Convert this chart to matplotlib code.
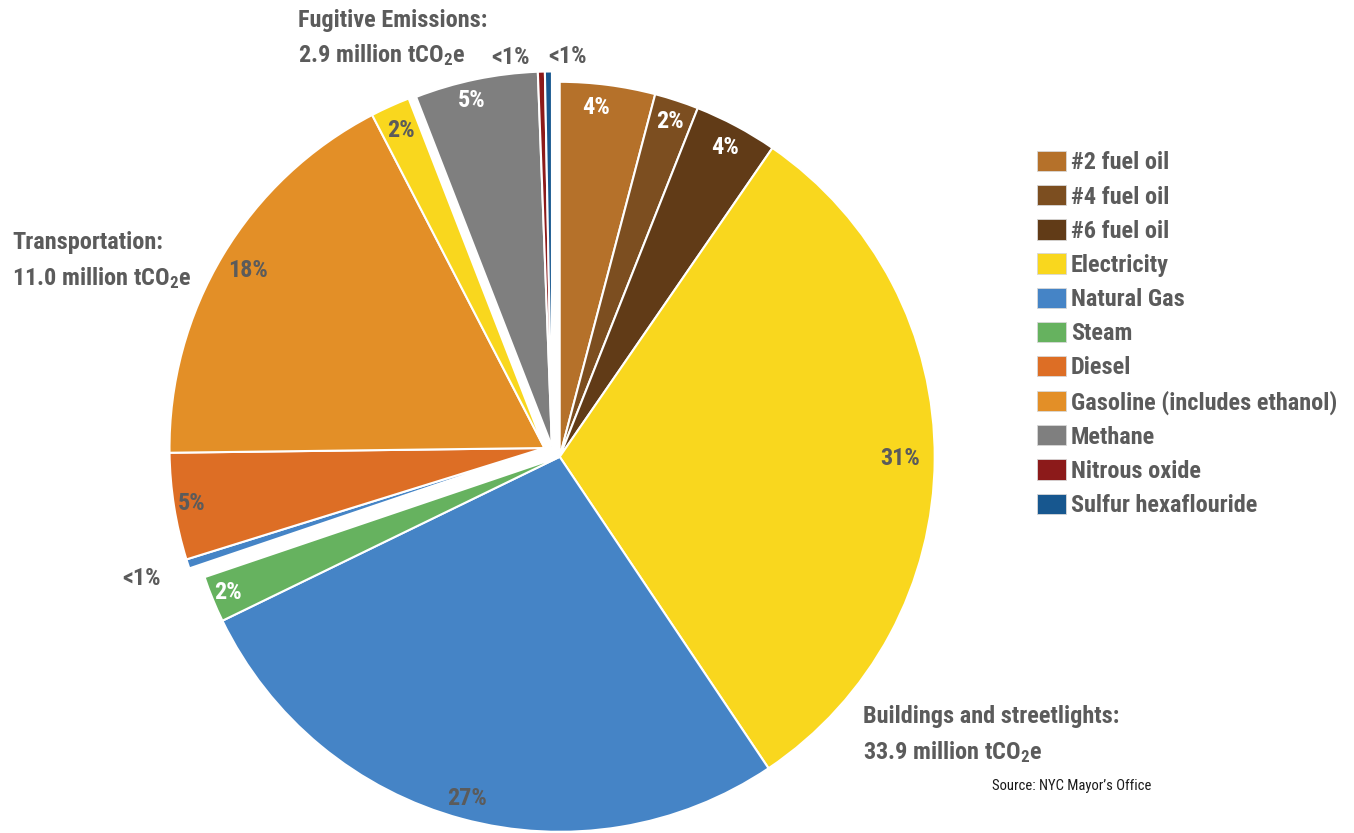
import matplotlib
matplotlib.use("Agg")
import numpy as np
import matplotlib.pyplot as plt
from matplotlib.patches import Patch
from matplotlib import font_manager

# NYC greenhouse gas emissions by source, share of citywide total (%)
sources = ["#2 fuel oil", "#4 fuel oil", "#6 fuel oil", "Electricity", "Natural Gas", "Steam",
           "Natural Gas", "Diesel", "Gasoline (includes ethanol)", "Electricity",
           "Methane", "Nitrous oxide", "Sulfur hexaflouride"]
groups = [0, 0, 0, 0, 0, 0, 1, 1, 1, 1, 2, 2, 2]
shares = [4.1, 1.9, 3.6, 31.0, 27.2, 2.0, 0.4, 4.6, 17.6, 1.7, 5.3, 0.3, 0.3]

group_names = ["Buildings and streetlights:", "Transportation:", "Fugitive Emissions:"]
group_totals = [33.9, 11.0, 2.9]   # million tCO2e

legend_names = ["#2 fuel oil", "#4 fuel oil", "#6 fuel oil", "Electricity", "Natural Gas", "Steam",
                "Diesel", "Gasoline (includes ethanol)", "Methane", "Nitrous oxide",
                "Sulfur hexaflouride"]
legend_colors = ["#b5712a", "#7c4e20", "#613b17", "#f9d71e", "#4584c6", "#66b25f",
                 "#dd6e25", "#e38f27", "#7f7f7f", "#8c1a1a", "#17578f"]
color_of = dict(zip(legend_names, legend_colors))

# layout / styling
explode = [0.022, 0.025, 0.015]
lab_r = [0.936, 0.94, 0.935, 0.907, 0.945, 0.955, 1.13, 0.953, 0.922, 0.93, 0.948, 1.044, 1.04]
lab_nudge = [1.5, 0, 0, 0, 0, 0, 0, 0, 0, 0, 1.3, 4.4, -2.85]
lab_white = [True, True, True, False, False, True, False, False, False, False, True, False, False]
GRAY = "#5b5b5b"

# pick a narrow bold face if one is installed
installed = {(f.name, f.stretch) for f in font_manager.fontManager.ttflist}
names = {n for n, s in installed}
FONT = None
for cand in ["Roboto Condensed", "Open Sans Condensed", "Liberation Sans Narrow",
             "DejaVu Sans Condensed"]:
    if cand in names:
        FONT = cand
        break
STRETCH = "normal"
if FONT is None:
    if ("DejaVu Sans", "condensed") in installed or ("DejaVu Sans", "semi-condensed") in installed:
        FONT, STRETCH = "DejaVu Sans", "condensed"
    elif "Roboto" in names:
        FONT = "Roboto"
    else:
        FONT = "DejaVu Sans"
FAM = [FONT, "DejaVu Sans"]
FS = 17.5

plt.rcParams["mathtext.fontset"] = "custom"
for k in ("rm", "it", "bf"):
    plt.rcParams["mathtext." + k] = FONT + ":bold"

W, H = 1354, 833
cx, cy, R = 553, 452, 375   # pie centre and radius in pixels

fig = plt.figure(figsize=(W / 100, H / 100), dpi=100)
ax = fig.add_axes([0, 0, 1, 1])
wedges, _ = ax.pie(shares, colors=[color_of[s] for s in sources], startangle=90,
                   counterclock=False, radius=1,
                   wedgeprops=dict(edgecolor="white", linewidth=1.5))
ax.set_xlim(-cx / R, (W - cx) / R)
ax.set_ylim(-(H - cy) / R, cy / R)

# shift each group of wedges out along the group's middle angle
offsets = []
for g in range(3):
    ws = [w for w, gi in zip(wedges, groups) if gi == g]
    lo = min(w.theta1 for w in ws)
    hi = max(w.theta2 for w in ws)
    mid = np.deg2rad((lo + hi) / 2)
    offsets.append((explode[g] * np.cos(mid), explode[g] * np.sin(mid)))
for w, g in zip(wedges, groups):
    w.set_center(offsets[g])

# percentage labels
for i, w in enumerate(wedges):
    ang = np.deg2rad((w.theta1 + w.theta2) / 2 + lab_nudge[i])
    ox, oy = offsets[groups[i]]
    x = ox + lab_r[i] * np.cos(ang)
    y = oy + lab_r[i] * np.sin(ang)
    txt = "<1%" if shares[i] < 1 else f"{shares[i]:.0f}%"
    ax.text(x, y, txt, ha="center", va="center", fontsize=FS, fontweight="bold",
            family=FAM, fontstretch=STRETCH, color="white" if lab_white[i] else GRAY)

# group titles
title_pos = [(863, 717), (12, 243), (298, 20)]
for (px, py), name, tot in zip(title_pos, group_names, group_totals):
    fig.text(px / W, 1 - py / H, name, ha="left", va="center", fontsize=FS,
             fontweight="bold", family=FAM, fontstretch=STRETCH, color=GRAY)
    fig.text(px / W, 1 - (py + 35) / H, f"{tot:.1f} million tCO$_2$e", ha="left",
             va="center", fontsize=FS, fontweight="bold", family=FAM,
             fontstretch=STRETCH, color=GRAY)

fig.text(992 / W, 1 - 786 / H, "Source: NYC Mayor\u2019s Office", ha="left", va="center",
         fontsize=10.5, family=FAM, fontstretch=STRETCH, color="#1a1a1a")

handles = [Patch(facecolor=c, edgecolor="#d8d8d8", linewidth=0.6) for c in legend_colors]
leg = fig.legend(handles, legend_names, loc="upper left", bbox_to_anchor=(1037 / W, 1 - 151 / H),
                 frameon=False, borderpad=0, borderaxespad=0, handlelength=1.2,
                 handleheight=0.9, handletextpad=0.2, labelspacing=0.44,
                 prop=dict(family=FAM, weight="bold", size=FS, stretch=STRETCH))
for t in leg.get_texts():
    t.set_color(GRAY)

fig.savefig("out.png", dpi=100)
